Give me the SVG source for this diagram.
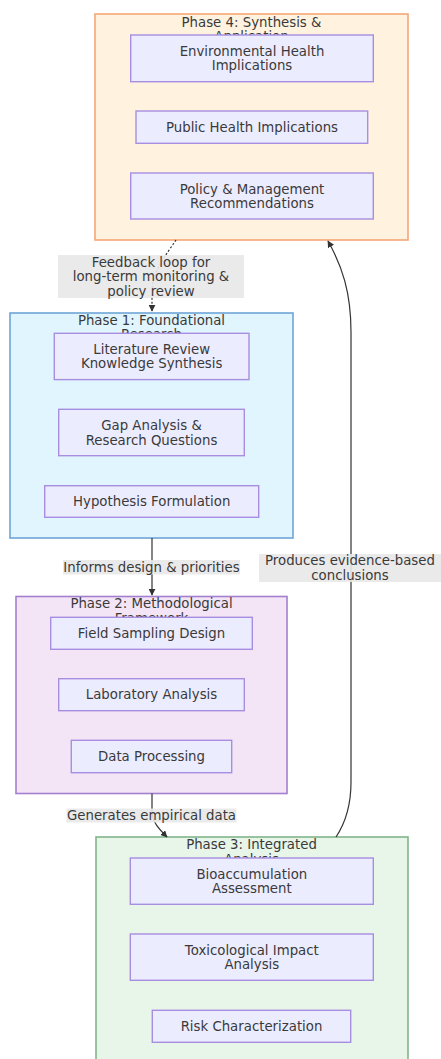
<svg xmlns="http://www.w3.org/2000/svg" width="441" height="1059" viewBox="0 0 441 1059">
<defs>
<style>
text{font-family:"DejaVu Sans","Liberation Sans",sans-serif;font-size:13.3px;fill:#3a3a3a;text-anchor:middle;dominant-baseline:central}
.node{fill:#ECECFF;stroke:#a88ee0;stroke-width:1.4}
.cl{stroke-width:1.6}
.edge{fill:none;stroke:#333;stroke-width:1.2}
.lbl{fill:#e8e8e8;opacity:0.9}
</style>
<marker id="arr" viewBox="0 0 10 10" refX="9" refY="5" markerWidth="7" markerHeight="7" orient="auto-start-reverse" markerUnits="userSpaceOnUse"><path d="M0,0 L10,5 L0,10 z" fill="#333"/></marker>
</defs>
<rect width="441" height="1059" fill="#fff"/>

<g id="phase4">
<rect class="cl" x="95" y="14" width="313" height="226" fill="#fff3e0" stroke="#f6a677"/>
<text x="251.5" y="22">Phase 4: Synthesis &amp;</text>
<text x="251.5" y="36.5">Application</text>
</g>
<g id="phase1">
<rect class="cl" x="10" y="313" width="283" height="225" fill="#e1f5fe" stroke="#6fa6d6"/>
<text x="151.5" y="320">Phase 1: Foundational</text>
<text x="151.5" y="334.5">Research</text>
</g>
<g id="phase2">
<rect class="cl" x="16" y="596.5" width="271" height="197" fill="#f3e5f5" stroke="#a47fcf"/>
<text x="151.5" y="603.5">Phase 2: Methodological</text>
<text x="151.5" y="618">Framework</text>
</g>
<g id="phase3">
<rect class="cl" x="96" y="837" width="312" height="240" fill="#e8f5e9" stroke="#80b58a"/>
<text x="251.5" y="844.5">Phase 3: Integrated</text>
<text x="251.5" y="859">Analysis</text>
</g>

<g id="connectors">
<path class="edge" d="M176,240 C166,255 152,272 152,292 L152,311" stroke-dasharray="2,2" marker-end="url(#arr)"/>
<path class="edge" d="M152,538 L152,595" marker-end="url(#arr)"/>
<path class="edge" d="M152,793.5 L152,812 C152,822 160,830 167,837" marker-end="url(#arr)"/>
<path class="edge" d="M336,837 C346,822 351,802 351,782 L351,332 C351,292 342,266 328,241" marker-end="url(#arr)"/>
<g id="label-feedback">
<rect class="lbl" x="58" y="255" width="186" height="43"/>
<text x="151" y="262">Feedback loop for</text>
<text x="151" y="276.5">long-term monitoring &amp;</text>
<text x="151" y="291">policy review</text>
</g>
<g id="label-informs">
<rect class="lbl" x="63" y="560" width="177" height="14.5"/>
<text x="151.5" y="567.3">Informs design &amp; priorities</text>
</g>
<g id="label-generates">
<rect class="lbl" x="66.5" y="808.5" width="170" height="14"/>
<text x="151.5" y="815.5">Generates empirical data</text>
</g>
<g id="label-produces">
<rect class="lbl" x="259" y="554" width="182" height="28"/>
<text x="350" y="560.5">Produces evidence-based</text>
<text x="350" y="575">conclusions</text>
</g>
</g>

<g id="env-health">
<rect class="node" x="130.7" y="35" width="242.6" height="46.7"/>
<text x="252" y="51">Environmental Health</text>
<text x="252" y="65.5">Implications</text>
</g>
<g id="public-health">
<rect class="node" x="136" y="111" width="231.7" height="32.3"/>
<text x="252" y="127.2">Public Health Implications</text>
</g>
<g id="policy">
<rect class="node" x="130.7" y="173" width="242.6" height="46"/>
<text x="252" y="189">Policy &amp; Management</text>
<text x="252" y="203.5">Recommendations</text>
</g>

<g id="lit-review">
<rect class="node" x="54.3" y="333.3" width="194.7" height="46.3"/>
<text x="151.7" y="349.3">Literature Review</text>
<text x="151.7" y="363.8">Knowledge Synthesis</text>
</g>
<g id="gap-analysis">
<rect class="node" x="58.7" y="409.3" width="185.6" height="46.4"/>
<text x="151.5" y="425.5">Gap Analysis &amp;</text>
<text x="151.5" y="440">Research Questions</text>
</g>
<g id="hypothesis">
<rect class="node" x="44.7" y="485.7" width="214" height="31.6"/>
<text x="151.7" y="501.5">Hypothesis Formulation</text>
</g>

<g id="field-sampling">
<rect class="node" x="50.7" y="617.3" width="201.6" height="32"/>
<text x="151.5" y="633.3">Field Sampling Design</text>
</g>
<g id="lab-analysis">
<rect class="node" x="58.7" y="678.7" width="185.6" height="32"/>
<text x="151.5" y="694.7">Laboratory Analysis</text>
</g>
<g id="data-processing">
<rect class="node" x="71.3" y="740.3" width="160.4" height="32.4"/>
<text x="151.5" y="756.5">Data Processing</text>
</g>

<g id="bioaccumulation">
<rect class="node" x="130.3" y="858" width="243" height="46.3"/>
<text x="251.8" y="874">Bioaccumulation</text>
<text x="251.8" y="888.5">Assessment</text>
</g>
<g id="toxicological">
<rect class="node" x="130.3" y="934" width="243" height="46.3"/>
<text x="251.8" y="950">Toxicological Impact</text>
<text x="251.8" y="964.5">Analysis</text>
</g>
<g id="risk">
<rect class="node" x="152.3" y="1010.3" width="198.4" height="32"/>
<text x="251.5" y="1026.3">Risk Characterization</text>
</g>
</svg>
